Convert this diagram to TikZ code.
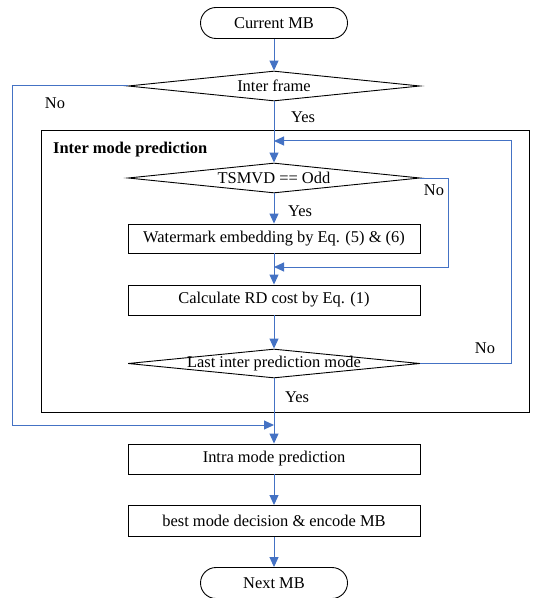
\documentclass[tikz,border=0pt]{standalone}
\usepackage{fontspec}
\setmainfont{Liberation Serif}
\usetikzlibrary{arrows.meta,shapes.geometric}
\definecolor{flowblue}{HTML}{4472C4}
\begin{document}
\begin{tikzpicture}[x=1bp,y=-1bp,
  every node/.style={font=\fontsize{16.5}{19}\selectfont},
  term/.style={draw=black,line width=0.9bp,rectangle,rounded corners=15.5bp,minimum width=147bp,minimum height=31bp,inner sep=0pt},
  procbox/.style={draw=black,line width=0.9bp,rectangle,minimum width=292bp,minimum height=30bp,inner sep=0pt},
  decide/.style={draw=black,line width=0.9bp,diamond,minimum width=292bp,minimum height=30bp,inner sep=0pt},
  arr/.style={draw=flowblue,line width=1bp,-{Triangle[length=10bp,width=9bp]}},
  lbl/.style={inner sep=0pt}]
\useasboundingbox (0,0) rectangle (533,598);
% outer frame
\draw[black,line width=0.9bp] (41,130) rectangle (529,412);
\node[lbl,anchor=west,font=\fontsize{16.5}{19}\selectfont\bfseries] (title) at (53,150) {Inter mode prediction};
% nodes
\node[term] (cur) at (274,23) {Current MB};
\node[decide,label={center:Inter frame}] (inter) at (274,86) {};
\node[decide,label={center:TSMVD == Odd}] (tsmvd) at (274,178) {};
\node[procbox,minimum height=29bp] (wm) at (274,238.5) {Watermark embedding by Eq. (5) \& (6)};
\node[procbox] (calc) at (274,300) {Calculate RD cost by Eq. (1)};
\node[decide,minimum height=29bp,label={center:Last inter prediction mode}] (last) at (274,363.5) {};
\node[procbox] (intra) at (274,459) {Intra mode prediction};
\node[procbox,minimum height=31bp] (best) at (274,521) {best mode decision \& encode MB};
\node[term] (next) at (274,583) {Next MB};
% joints
\coordinate (jloop) at (274,141);
\coordinate (jno) at (274,267);
\coordinate (jskip) at (274,425);
\coordinate (cl) at (12,86);
\coordinate (cr1) at (448,178);
\coordinate (cr2) at (511,363.5);
% connectors
\draw[arr] (cur) -- (inter);
\draw[arr] (inter) -- (tsmvd);
\draw[arr] (inter.west) -- (cl) |- (jskip);
\draw[arr] (tsmvd) -- (wm);
\draw[arr] (tsmvd.east) -- (cr1) |- (jno);
\draw[arr] (wm) -- (calc);
\draw[arr] (calc) -- (last);
\draw[arr] (last.east) -- (cr2) |- (jloop);
\draw[arr] (last) -- (intra);
\draw[arr] (intra) -- (best);
\draw[arr] (best) -- (next);
% labels
\node[lbl] (no1) at (55,103) {No};
\node[lbl] (yes1) at (303,117) {Yes};
\node[lbl] (no2) at (434,190) {No};
\node[lbl] (yes2) at (300,211) {Yes};
\node[lbl] (no3) at (485,348) {No};
\node[lbl] (yes3) at (297,397) {Yes};
\end{tikzpicture}
\end{document}
